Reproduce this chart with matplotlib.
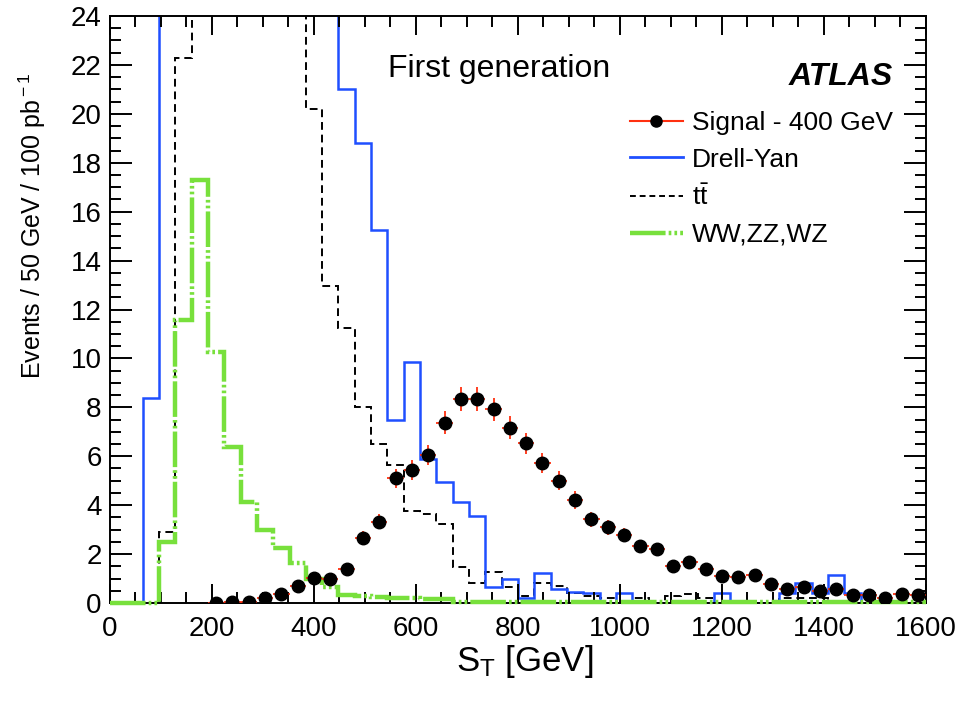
import numpy as np
import matplotlib
matplotlib.use("Agg")
import matplotlib.pyplot as plt
from matplotlib.lines import Line2D

plt.rcParams['font.family'] = ['Liberation Sans', 'DejaVu Sans']
plt.rcParams['mathtext.fontset'] = 'custom'
plt.rcParams['mathtext.rm'] = 'Liberation Sans'
plt.rcParams['mathtext.it'] = 'Liberation Sans:italic'

# 50 bins of 32 GeV from 0 to 1600
bin_edges = np.linspace(0, 1600, 51)

# Drell-Yan (bins 3-13 run off the top of the plot)
drell_yan = [0, 0, 8.4, 45, 95, 140, 165, 160, 130, 100, 72, 52, 38, 28,
             21.0, 18.8, 15.25, 7.5, 9.85, 5.9, 4.95, 4.13, 3.56, 0.65, 0.98,
             0.2, 1.23, 0.57, 0.45, 0.4, 0, 0.4, 0, 0, 0, 0, 0, 0.4, 0, 0,
             0, 0.4, 0.8, 0.4, 1.15, 0.4, 0, 0, 0, 0]

# ttbar (bins 5-11 off scale)
ttbar = [0, 0, 0, 2.9, 22.3, 32, 40, 44, 42, 37, 31, 26, 20.2, 12.96, 11.24,
         8.0, 6.5, 5.64, 3.76, 3.65, 3.23, 1.47, 0.82, 1.27, 0.65, 0.29, 0.82,
         0.7, 0.4, 0.3, 0.2, 0, 0.2, 0, 0.3, 0.35, 0.2, 0, 0, 0, 0, 0.2, 0.2,
         0.2, 0, 0, 0, 0, 0, 0]

# WW, ZZ, WZ
diboson = [0, 0, 0, 2.5, 11.57, 17.3, 10.26, 6.38, 4.13, 2.98, 2.25, 1.63,
           1.0, 0.65, 0.33, 0.27, 0.25, 0.2, 0.2, 0.15, 0.15, 0.05, 0.05, 0.05,
           0.05, 0.05, 0.05, 0.05, 0.05, 0.05, 0.05, 0.05, 0.05, 0.05, 0.05,
           0.05, 0.05, 0.05, 0.05, 0.05, 0.05, 0.05, 0.05, 0.05, 0.05, 0.05,
           0.05, 0.05, 0.05, 0.05]

# signal, 400 GeV (points start at bin 6)
signal_first_bin = 6
signal = [0.01, 0.05, 0.05, 0.19, 0.35, 0.69, 1.03, 1.0, 1.37, 2.67, 3.33,
          5.1, 5.44, 6.05, 7.37, 8.34, 8.34, 7.92, 7.17, 6.53, 5.74, 5.0, 4.21,
          3.42, 3.09, 2.78, 2.33, 2.19, 1.51, 1.69, 1.38, 1.1, 1.05, 1.13,
          0.78, 0.56, 0.64, 0.5, 0.57, 0.34, 0.33, 0.19, 0.37, 0.33]
signal_err = [0.02, 0.04, 0.04, 0.07, 0.1, 0.14, 0.17, 0.17, 0.2, 0.28, 0.31,
              0.38, 0.4, 0.42, 0.46, 0.49, 0.49, 0.48, 0.46, 0.43, 0.41, 0.38,
              0.35, 0.31, 0.3, 0.28, 0.26, 0.25, 0.21, 0.22, 0.2, 0.18, 0.17,
              0.18, 0.15, 0.13, 0.14, 0.12, 0.13, 0.1, 0.1, 0.07, 0.1, 0.1]

blue = '#1f4fff'
green = '#78e03c'
red = '#ff3010'
green_ls = (0, (8, 0.7, 0.6, 0.7, 0.6, 0.7))

fig = plt.figure(figsize=(9.79, 7.02), dpi=100)
ax = fig.add_axes([110/979, 99/702, 816/979, 587/702])

ax.stairs(diboson, bin_edges, baseline=None, color=green, lw=3.2,
          linestyle=green_ls, zorder=3, clip_on=False)
ax.stairs(ttbar, bin_edges, baseline=None, color='black', lw=1.4, linestyle=(0, (4, 2.5)))
ax.stairs(drell_yan, bin_edges, baseline=None, color=blue, lw=1.8)

centers = 0.5*(bin_edges[:-1] + bin_edges[1:])
sig_x = centers[signal_first_bin:signal_first_bin + len(signal)]
ax.errorbar(sig_x, signal, xerr=16, yerr=signal_err, fmt='o', color='black',
            ms=9, ecolor=red, elinewidth=1.3, capsize=0, zorder=5)

ax.set_xlim(0, 1600)
ax.set_ylim(0, 24)
ax.set_xticks(np.arange(0, 1601, 200))
ax.set_xticks(np.arange(0, 1601, 50), minor=True)
ax.set_yticks(np.arange(0, 25, 2))
ax.set_yticks(np.arange(0, 24.1, 0.5), minor=True)
ax.tick_params(which='both', direction='in', top=True, right=True, width=1.4,
               labelsize=20)
ax.tick_params(axis='x', which='major', length=14, pad=9)
ax.tick_params(axis='x', which='minor', length=8)
ax.tick_params(axis='y', which='major', length=16, pad=6)
ax.tick_params(axis='y', which='minor', length=8)
for s in ax.spines.values():
    s.set_linewidth(1.4)

fig.text(525/979, 1 - 662/702, r'S$_{\rm T}$ [GeV]', fontsize=25,
         ha='center', va='center')
fig.text(32/979, 1 - 72/702, r'Events / 50 GeV / 100 pb$^{\rm -1}$',
         fontsize=18, rotation=90, ha='center', va='top')

ax.text(545, 21.5, 'First generation', fontsize=23, va='baseline')
ax.text(1535, 21.18, 'ATLAS', fontsize=23, fontweight='bold', style='italic',
        ha='right', va='baseline')

handles = [
    Line2D([], [], color=red, lw=1.5, marker='o', mfc='black', mec='black', ms=8),
    Line2D([], [], color=blue, lw=2),
    Line2D([], [], color='black', lw=1.4, linestyle=(0, (3, 2))),
    Line2D([], [], color=green, lw=3.2, linestyle=green_ls),
]
labels = ['Signal - 400 GeV', 'Drell-Yan', r'$\mathrm{t\bar{t}}$', 'WW,ZZ,WZ']
ax.legend(handles, labels, loc='upper left', bbox_to_anchor=(630/979, 1 - 111/702),
          bbox_transform=fig.transFigure, frameon=False, fontsize=19,
          handlelength=2.0, handletextpad=0.35, labelspacing=0.48,
          borderpad=0, borderaxespad=0)

fig.savefig('out.png', dpi=100)
